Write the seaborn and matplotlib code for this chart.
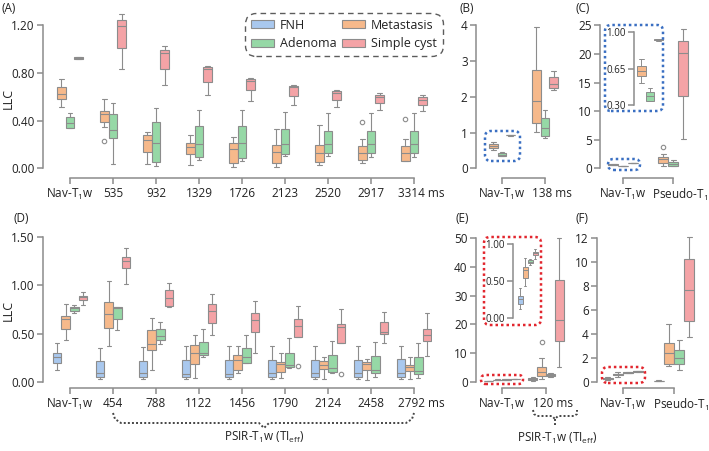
import matplotlib
matplotlib.use("Agg")
import matplotlib.pyplot as plt
import numpy as np
import pandas as pd
import seaborn as sns
from matplotlib.lines import Line2D
from matplotlib.patches import FancyBboxPatch, Patch
from matplotlib.transforms import ScaledTranslation

W, H, DPI = 709, 451, 100

GROUPS = ["FNH", "Metastasis", "Adenoma", "Simple cyst"]
TOP_GROUPS = ["Metastasis", "Adenoma", "Simple cyst"]
LEGEND_ORDER = ["FNH", "Adenoma", "Metastasis", "Simple cyst"]
PALETTE = {"FNH": "#a9c8ee", "Metastasis": "#f6b98b",
           "Adenoma": "#96d8a6", "Simple cyst": "#f4a3a6"}
EDGE = "#8c8c8c"
NAV = "Nav-T$_1$w"

# five-number summaries: [low whisker, Q1, median, Q3, high whisker]
# --- top row, Nav-T1w (shared by A, B, C and the C inset)
NAV_TOP_MET = [0.511, 0.578, 0.622, 0.678, 0.745]
NAV_TOP_ADE = [0.338, 0.338, 0.382, 0.427, 0.46]
NAV_TOP_CYST = [0.915, 0.92, 0.925, 0.93, 0.935]

# --- (A) PSIR TI
TI_A = ["535", "932", "1329", "1726", "2123", "2520", "2917", "3314 ms"]
A_MET = [[0.349, 0.385, 0.452, 0.48, 0.578], [0.034, 0.14, 0.237, 0.279, 0.307],
         [0.025, 0.12, 0.181, 0.209, 0.279], [0.014, 0.047, 0.159, 0.215, 0.265],
         [0.014, 0.042, 0.14, 0.195, 0.327], [0.028, 0.056, 0.131, 0.193, 0.363],
         [0.047, 0.07, 0.131, 0.187, 0.243], [0.06, 0.065, 0.126, 0.187, 0.243]]
A_ADE = [[0.034, 0.251, 0.321, 0.452, 0.55], [0.02, 0.056, 0.215, 0.388, 0.51],
         [0.07, 0.092, 0.204, 0.354, 0.488], [0.064, 0.089, 0.209, 0.354, 0.488],
         [0.103, 0.12, 0.204, 0.327, 0.469], [0.103, 0.126, 0.204, 0.315, 0.466],
         [0.098, 0.131, 0.204, 0.315, 0.46], [0.098, 0.131, 0.204, 0.315, 0.46]]
A_CYST = [[0.837, 1.013, 1.192, 1.242, 1.298], [0.698, 0.829, 0.971, 0.99, 1.024],
          [0.614, 0.726, 0.829, 0.846, 0.86], [0.567, 0.656, 0.734, 0.748, 0.754],
          [0.527, 0.606, 0.678, 0.69, 0.698], [0.511, 0.572, 0.634, 0.65, 0.661],
          [0.488, 0.55, 0.594, 0.614, 0.634], [0.483, 0.53, 0.572, 0.594, 0.614]]
A_OUT = {("Metastasis", "535"): 0.23, ("Metastasis", "2917"): 0.39,
         ("Metastasis", "3314 ms"): 0.41}

# --- (B) 138 ms
B_MET = [1.02, 1.27, 1.89, 2.76, 3.95]
B_ADE = [0.84, 0.9, 1.12, 1.4, 1.63]
B_CYST = [2.19, 2.26, 2.35, 2.54, 2.73]

# --- (C) Pseudo-T1
C_MET = [0.41, 0.99, 1.57, 2.03, 2.5]
C_ADE = [0.47, 0.47, 0.76, 1.05, 1.45]
C_CYST = [5.2, 12.7, 20.2, 22.3, 24.4]
C_OUT = {("Metastasis", "Pseudo-T$_1$"): 3.7}

# --- bottom row, Nav-T1w (shared by D, E, F and the E inset)
NAV_BOT_FNH = [0.12, 0.19, 0.255, 0.295, 0.40]
NAV_BOT_MET = [0.435, 0.547, 0.655, 0.685, 0.81]
NAV_BOT_ADE = [0.717, 0.738, 0.762, 0.778, 0.792]
NAV_BOT_CYST = [0.80, 0.849, 0.88, 0.895, 0.935]

# --- (D) PSIR TI
TI_D = ["454", "788", "1122", "1456", "1790", "2124", "2458", "2792 ms"]
D_FNH = [[0.03, 0.052, 0.087, 0.218, 0.346], [0.024, 0.052, 0.087, 0.22, 0.364],
         [0.024, 0.052, 0.08, 0.225, 0.371], [0.024, 0.052, 0.08, 0.225, 0.371],
         [0.024, 0.052, 0.087, 0.225, 0.371], [0.024, 0.052, 0.087, 0.225, 0.371],
         [0.024, 0.052, 0.087, 0.225, 0.374], [0.024, 0.052, 0.087, 0.232, 0.371]]
D_MET = [[0.372, 0.555, 0.70, 0.823, 1.042], [0.118, 0.325, 0.388, 0.537, 0.658],
         [0.035, 0.184, 0.301, 0.381, 0.485], [0.087, 0.121, 0.225, 0.277, 0.371],
         [0.035, 0.104, 0.184, 0.208, 0.301], [0.025, 0.135, 0.173, 0.215, 0.26],
         [0.02, 0.125, 0.184, 0.2, 0.232], [0.025, 0.11, 0.156, 0.175, 0.26]]
D_ADE = [[0.537, 0.648, 0.765, 0.775, 0.78], [0.395, 0.43, 0.47, 0.545, 0.623],
         [0.253, 0.277, 0.294, 0.416, 0.544], [0.19, 0.197, 0.253, 0.346, 0.485],
         [0.139, 0.149, 0.173, 0.301, 0.45], [0.087, 0.104, 0.139, 0.277, 0.426],
         [0.045, 0.087, 0.121, 0.267, 0.409], [0.035, 0.08, 0.114, 0.26, 0.398]]
D_CYST = [[1.015, 1.178, 1.257, 1.299, 1.386], [0.779, 0.786, 0.866, 0.953, 1.022],
          [0.485, 0.613, 0.738, 0.807, 0.911], [0.294, 0.52, 0.641, 0.71, 0.838],
          [0.461, 0.461, 0.578, 0.648, 0.786], [0.405, 0.405, 0.565, 0.599, 0.752],
          [0.398, 0.495, 0.52, 0.62, 0.727], [0.267, 0.426, 0.485, 0.547, 0.71]]
D_OUT = {("Simple cyst", "1790"): 0.16, ("Simple cyst", "2124"): 0.08}

# --- (E) 120 ms
E_FNH = [0.35, 0.58, 0.81, 1.16, 1.5]
E_MET = [0.8, 2.0, 3.5, 5.0, 8.1]
E_ADE = [1.74, 2.0, 2.3, 2.67, 2.9]
E_CYST = [5.2, 14.3, 21.5, 35.5, 50.0]
E_OUT = {("Metastasis", "120 ms"): 13.95}

# --- (F) Pseudo-T1
F_FNH = [0.05, 0.07, 0.08, 0.10, 0.12]
F_MET = [1.28, 1.5, 2.4, 3.25, 4.8]
F_ADE = [1.0, 1.45, 2.0, 2.68, 3.45]
F_CYST = [3.7, 5.1, 7.64, 10.3, 12.1]


def box_points(s, out=None):
    """9 values whose quartiles/whiskers reproduce the summary s exactly."""
    lo, q1, med, q3, hi = s
    if out is None:
        return [lo, q1, q1, med, med, med, q3, q3, hi]
    if out < q1:
        return [out, lo, q1, med, med, med, q3, q3, hi]
    return [lo, q1, q1, med, med, med, q3, hi, out]


def frame(cats, stats, outliers=None):
    rows = []
    for g, per_cat in stats.items():
        for c, s in zip(cats, per_cat):
            o = (outliers or {}).get((g, c))
            rows += [(c, g, v) for v in box_points(s, o)]
    return pd.DataFrame(rows, columns=["cat", "group", "LLC"])


sns.set_style("ticks")
plt.rcParams["font.family"] = ["Open Sans", "DejaVu Sans"]
plt.rcParams["mathtext.fontset"] = "custom"
plt.rcParams["mathtext.rm"] = "Open Sans"
plt.rcParams["mathtext.it"] = "Open Sans"
plt.rcParams["mathtext.bf"] = "Open Sans:bold"
TXT = "#222222"

fig = plt.figure(figsize=(W / DPI, H / DPI), dpi=DPI)


def px(x, y):
    return x / W, 1 - y / H


def shift_label(lab, dx):
    lab.set_transform(lab.get_transform() + ScaledTranslation(dx / DPI, 0, fig.dpi_scale_trans))


def panel(df, cats, groups, width, xpx, cat0, dcat, zero, ppu, ylim, yticks,
          ylabels, spine_y=None, fs=8.5, lw=0.8):
    left, right = xpx
    xlim = ((left - cat0) / dcat, (right - cat0) / dcat)
    ybot = zero - ylim[0] * ppu
    ytop = zero - ylim[1] * ppu
    ax = fig.add_axes([left / W, 1 - ybot / H, (right - left) / W, (ybot - ytop) / H])
    ax.set_facecolor("none")
    sns.boxplot(data=df, x="cat", y="LLC", hue="group", order=cats,
                hue_order=groups, palette=PALETTE, width=width, saturation=1,
                linecolor=EDGE, linewidth=lw, fliersize=3.2,
                flierprops=dict(marker="o", markerfacecolor="none",
                                markeredgecolor=EDGE, markeredgewidth=0.8),
                legend=False, ax=ax)
    ax.set_xlim(xlim)
    ax.set_ylim(ylim)
    ax.set_xlabel("")
    ax.set_ylabel("")
    for s in ["top", "right"]:
        ax.spines[s].set_visible(False)
    for s in ["left", "bottom"]:
        ax.spines[s].set_color(EDGE)
        ax.spines[s].set_linewidth(1.1)
    ax.set_yticks(yticks)
    ax.set_yticklabels(ylabels)
    ax.spines["left"].set_bounds(yticks[0], yticks[-1])
    ax.tick_params(colors=EDGE, labelcolor=TXT, labelsize=fs, width=1.1,
                   length=4, pad=2)
    if spine_y is None:
        ax.spines["bottom"].set_visible(False)
        ax.set_xticks([])
    else:
        ax.spines["bottom"].set_position(("outward", (spine_y - ybot) * 72 / DPI))
        ax.spines["bottom"].set_bounds(0, len(cats) - 1)
        ax.set_xticks(range(len(cats)))
        ax.set_xticklabels(cats)
        for lab in ax.get_xticklabels():
            if lab.get_text().endswith(" ms"):
                shift_label(lab, 7)
    return ax


def dotted_box(x0, y0, x1, y1, color, rad=5):
    p = FancyBboxPatch((x0 / DPI, (H - y1) / DPI), (x1 - x0) / DPI, (y1 - y0) / DPI,
                       boxstyle=f"round,pad=0,rounding_size={rad / DPI}",
                       transform=fig.dpi_scale_trans, fill=False,
                       edgecolor=color, linewidth=1.8, linestyle=(0, (1, 1.2)))
    fig.add_artist(p)


def brace(points):
    xs = [p[0] / DPI for p in points]
    ys = [(H - p[1]) / DPI for p in points]
    fig.add_artist(Line2D(xs, ys, transform=fig.dpi_scale_trans, color="#444444",
                          linewidth=1.4, linestyle=(0, (1, 1.1))))


# ---------------- (A)
cats = [NAV] + TI_A
df = frame(cats, {"Metastasis": [NAV_TOP_MET] + A_MET,
                  "Adenoma": [NAV_TOP_ADE] + A_ADE,
                  "Simple cyst": [NAV_TOP_CYST] + A_CYST}, A_OUT)
axA = panel(df, cats, TOP_GROUPS, 0.6, (43, 432), 70, 43, 168.3, 119.2,
            (-0.02, 1.32), [0, 0.4, 0.8, 1.2], ["0.00", "0.40", "0.80", "1.20"],
            spine_y=178.3)

# ---------------- (B)
cats = [NAV, "138 ms"]
df = frame(cats, {"Metastasis": [NAV_TOP_MET, B_MET],
                  "Adenoma": [NAV_TOP_ADE, B_ADE],
                  "Simple cyst": [NAV_TOP_CYST, B_CYST]})
panel(df, cats, TOP_GROUPS, 0.6, (476, 572), 502, 43, 168.3, 35.75,
      (-0.05, 4.1), [0, 1, 2, 3, 4], ["0", "1", "2", "3", "4"], spine_y=178.3)

# ---------------- (C)
cats = [NAV, "Pseudo-T$_1$"]
df = frame(cats, {"Metastasis": [NAV_TOP_MET, C_MET],
                  "Adenoma": [NAV_TOP_ADE, C_ADE],
                  "Simple cyst": [NAV_TOP_CYST, C_CYST]}, C_OUT)
axC = panel(df, cats, TOP_GROUPS, 0.6, (600, 709), 623, 50, 168.3, 5.72,
            (-0.3, 25.5), [0, 5, 10, 15, 20, 25], ["0", "5", "10", "15", "20", "25"],
            spine_y=178.3)
shift_label(axC.get_xticklabels()[1], 7)

# C inset: zoom on Nav-T1w
df = frame([NAV], {"Metastasis": [NAV_TOP_MET], "Adenoma": [NAV_TOP_ADE],
                   "Simple cyst": [NAV_TOP_CYST]})
panel(df, [NAV], TOP_GROUPS, 0.6, (634, 664), 650, 43, 32 + 104.3, 104.3,
      (0.28, 1.02), [0.3, 0.65, 1.0], ["0.30", "0.65", "1.00"], fs=7, lw=0.7)

# ---------------- (D)
cats = [NAV] + TI_D
df = frame(cats, {"FNH": [NAV_BOT_FNH] + D_FNH,
                  "Metastasis": [NAV_BOT_MET] + D_MET,
                  "Adenoma": [NAV_BOT_ADE] + D_ADE,
                  "Simple cyst": [NAV_BOT_CYST] + D_CYST}, D_OUT)
panel(df, cats, GROUPS, 0.8, (43, 432), 70, 43, 381.7, 96.27,
      (-0.02, 1.56), [0, 0.5, 1.0, 1.5], ["0.00", "0.50", "1.00", "1.50"],
      spine_y=388.3)

# ---------------- (E)
cats = [NAV, "120 ms"]
df = frame(cats, {"FNH": [NAV_BOT_FNH, E_FNH], "Metastasis": [NAV_BOT_MET, E_MET],
                  "Adenoma": [NAV_BOT_ADE, E_ADE], "Simple cyst": [NAV_BOT_CYST, E_CYST]},
           E_OUT)
panel(df, cats, GROUPS, 0.8, (476, 580), 502, 44, 381.7, 2.868,
      (-0.6, 51), [0, 10, 20, 30, 40, 50], ["0", "10", "20", "30", "40", "50"],
      spine_y=388.3)

# E inset: zoom on Nav-T1w
df = frame([NAV], {"FNH": [NAV_BOT_FNH], "Metastasis": [NAV_BOT_MET],
                   "Adenoma": [NAV_BOT_ADE], "Simple cyst": [NAV_BOT_CYST]})
panel(df, [NAV], GROUPS, 0.8, (513, 542), 527.5, 25, 318, 74,
      (-0.02, 1.02), [0, 0.5, 1.0], ["0.00", "0.50", "1.00"], fs=7, lw=0.7)

# ---------------- (F)
cats = [NAV, "Pseudo-T$_1$"]
df = frame(cats, {"FNH": [NAV_BOT_FNH, F_FNH], "Metastasis": [NAV_BOT_MET, F_MET],
                  "Adenoma": [NAV_BOT_ADE, F_ADE], "Simple cyst": [NAV_BOT_CYST, F_CYST]})
axF = panel(df, cats, GROUPS, 0.8, (597, 709), 623, 51, 381.7, 11.95,
            (-0.15, 12.3), [0, 2, 4, 6, 8, 10, 12],
            ["0", "2", "4", "6", "8", "10", "12"], spine_y=388.3)
shift_label(axF.get_xticklabels()[1], 7)

# ---------------- legend (column-wise: FNH/Adenoma, Metastasis/Simple cyst)
handles = [Patch(facecolor=PALETTE[g], edgecolor=EDGE, linewidth=0.8, label=g)
           for g in LEGEND_ORDER]
leg = axA.legend(handles=handles, ncol=2, loc="upper left",
                 bbox_to_anchor=px(245, 13), bbox_transform=fig.transFigure,
                 borderaxespad=0, fontsize=9, handlelength=1.9, handleheight=0.65,
                 handletextpad=0.45, columnspacing=0.4, labelspacing=0.45,
                 borderpad=0.45, frameon=True, fancybox=True)
fr = leg.get_frame()
fr.set_edgecolor("#333333")
fr.set_linewidth(1.0)
fr.set_linestyle((0, (4, 3)))
fr.set_boxstyle("round,pad=0,rounding_size=0.9")
for t in leg.get_texts():
    t.set_color(TXT)

# ---------------- dotted highlight boxes
BLUE, RED = "#3a6fc2", "#e2262e"
dotted_box(485, 131, 520, 161, BLUE, rad=6)
dotted_box(608, 159, 640, 170, BLUE, rad=5.5)
dotted_box(605, 25, 663, 111, BLUE, rad=6)
dotted_box(481, 375, 523, 384, RED, rad=4.5)
dotted_box(484, 237, 541, 325, RED, rad=6)
dotted_box(602, 367, 645, 383, RED, rad=6)

# ---------------- braces + PSIR labels
brace([(113, 413), (115, 419), (121, 423), (259, 423), (264, 428), (269, 423),
       (406, 423), (412, 419), (414, 413)])
brace([(533, 410), (534, 414), (537, 416), (552, 416), (555, 419), (558, 416),
       (574, 416), (577, 414), (577, 410)])
brace([(555, 419), (555, 425)])
fig.text(*px(264, 437), "PSIR-T$_1$w (TI$_{eff}$)", ha="center", va="center",
         fontsize=8.5, color=TXT)
fig.text(*px(557, 438), "PSIR-T$_1$w (TI$_{eff}$)", ha="center", va="center",
         fontsize=8.5, color=TXT)

# ---------------- panel letters and y labels
for lab, x, y in [("(A)", 1, 8), ("(B)", 460, 8), ("(C)", 575, 8),
                  ("(D)", 13, 219), ("(E)", 455, 219), ("(F)", 575, 219)]:
    fig.text(*px(x, y), lab, ha="left", va="center", fontsize=8.5, color=TXT)
for y in (98, 310):
    fig.text(*px(8, y), "LLC", ha="center", va="center", rotation=90,
             fontsize=9, color=TXT)

fig.savefig("out.png", dpi=DPI)
